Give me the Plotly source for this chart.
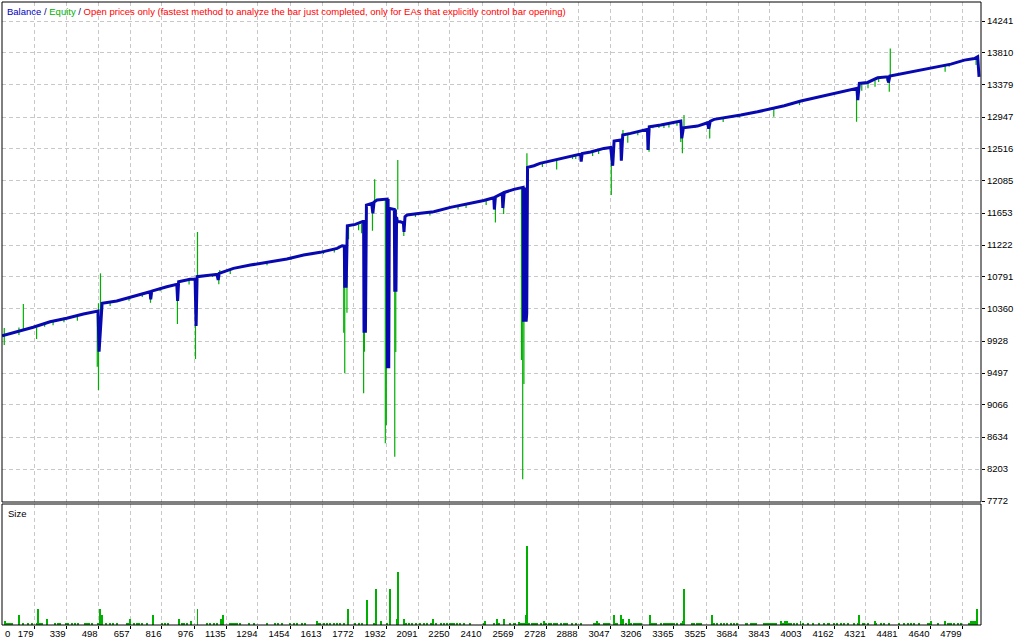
import plotly.graph_objects as go

# ---------------- data ----------------
bal_x = [20, 109, 175, 259, 342, 425, 495, 498, 503, 510,
         515, 518, 591, 674, 757, 760, 765, 840, 890, 894,
         899, 956, 981, 986, 991, 1090, 1096, 1101, 1172, 1256,
         1355, 1438, 1521, 1604, 1688, 1713, 1724, 1726, 1730, 1733,
         1739, 1779, 1816, 1820, 1822, 1826, 1829, 1834, 1860, 1866,
         1872, 1887, 1937, 1939, 1942, 1945, 1948, 1965, 1973, 1975,
         1978, 1981, 1984, 1988, 2003, 2018, 2021, 2026, 2036, 2103,
         2169, 2252, 2336, 2418, 2468, 2471, 2476, 2510, 2513, 2520,
         2568, 2610, 2614, 2616, 2619, 2622, 2626, 2629, 2632, 2636,
         2668, 2698, 2784, 2867, 2900, 2903, 2908, 2950, 2983, 3016,
         3050, 3060, 3067, 3100, 3103, 3110, 3149, 3199, 3233, 3236,
         3242, 3299, 3365, 3399, 3404, 3412, 3482, 3532, 3538, 3546,
         3565, 3631, 3698, 3781, 3847, 3914, 3997, 4080, 4163, 4246,
         4276, 4280, 4288, 4329, 4379, 4429, 4433, 4440, 4462, 4528,
         4578, 4661, 4744, 4811, 4861, 4877, 4884]
bal_y = [10000, 10067, 10113, 10188, 10234, 10292, 10332, 10332, 9784, 10134,
         10420, 10436, 10467, 10534, 10592, 10490, 10600, 10660, 10692, 10467,
         10727, 10759, 10759, 10130, 10795, 10827, 10750, 10840, 10907, 10952,
         10996, 11033, 11087, 11123, 11177, 11212, 11208, 10646, 11208, 10646,
         11480, 11500, 11540, 11540, 10040, 11540, 10040, 11760, 11783, 11650,
         11800, 11828, 11841, 9560, 11841, 9560, 11716, 11700, 11700, 10592,
         11700, 10592, 11600, 11535, 11535, 11522, 11400, 11603, 11626, 11649,
         11670, 11729, 11774, 11822, 11859, 11700, 11870, 11917, 11720, 11930,
         11972, 11999, 11999, 10188, 11999, 10188, 11990, 10188, 10300, 12268,
         12290, 12322, 12375, 12420, 12448, 12345, 12455, 12475, 12502, 12524,
         12537, 12290, 12623, 12637, 12357, 12704, 12726, 12762, 12781, 12502,
         12816, 12839, 12875, 12893, 12659, 12802, 12825, 12870, 12790, 12890,
         12915, 12942, 12973, 13017, 13054, 13099, 13162, 13212, 13266, 13310,
         13333, 13175, 13400, 13413, 13475, 13489, 13410, 13500, 13512, 13549,
         13566, 13616, 13660, 13714, 13736, 13759, 13489]

# equity excursions away from the balance line: position, low, high
eq_x = [31, 104, 126, 192, 232, 274, 328, 395, 494, 500, 510, 558,
        652, 718, 759, 807, 893, 951, 983, 988, 993, 1067, 1099, 1104,
        1156, 1339, 1458, 1620, 1674, 1721, 1726, 1737, 1745, 1795, 1810, 1820,
        1824, 1864, 1875, 1928, 1933, 1975, 1980, 1990, 2020, 2078, 2150, 2290,
        2330, 2430, 2476, 2517, 2606, 2612, 2618, 2633, 2710, 2781, 2860, 2876,
        2960, 2990, 3053, 3111, 3135, 3185, 3241, 3260, 3290, 3315, 3340, 3380,
        3399, 3407, 3415, 3470, 3543, 3610, 3690, 3862, 3990, 4274, 4300, 4331,
        4366, 4384, 4425, 4437, 4442, 4715, 4735, 4869]
eq_lo = [9874, 10010, 10070, 9955, 10120, 10140, 10180, 10200, 9582, 9268, 10300, 10400,
         10470, 10520, 10443, 10600, 10157, 10690, 9685, 10150, 10790, 10790, 10692, 10840,
         10830, 10950, 11020, 11100, 11120, 10040, 9493, 10309, 11300, 11420, 11380, 9223,
         9784, 11414, 11800, 8549, 8796, 8369, 9780, 11700, 11345, 11600, 11620, 11700,
         11720, 11760, 11526, 11640, 9672, 8064, 9350, 12268, 12273, 12240, 12380, 12380,
         12420, 12450, 11895, 12704, 12600, 12700, 12480, 12794, 12800, 12800, 12805, 12830,
         12610, 12457, 12802, 12800, 12659, 12880, 12940, 12951, 13108, 12883, 13300, 13333,
         13355, 13420, 13436, 13287, 13489, 13557, 13624, 13647]
eq_hi = [10103, 10110, 10427, 10110, 10180, 10200, 10240, 10270, 10300, 10436, 10840, 10460,
         10520, 10580, 10590, 10650, 10690, 10760, 10760, 10790, 11397, 10830, 10840, 10885,
         10900, 10990, 11050, 11130, 11170, 11212, 11210, 10840, 11490, 11500, 11515, 11520,
         11520, 11780, 12107, 11840, 11840, 11700, 11700, 12367, 11522, 11640, 11665, 11760,
         11770, 11825, 11865, 11925, 11990, 11999, 10800, 12457, 12330, 12375, 12420, 12420,
         12480, 12505, 12537, 12771, 12704, 12755, 12781, 12830, 12835, 12845, 12850, 12870,
         12893, 12802, 12973, 12825, 12880, 12930, 12970, 13060, 13160, 13333, 13400, 13413,
         13440, 13478, 13489, 13489, 13871, 13640, 13650, 13755]

# Size panel (lots)
size_x = [34, 106, 200, 245, 509, 518, 659, 769, 903, 963, 993, 1108,
          1121, 1586, 1742, 1835, 1882, 1905, 1950, 1987, 1992, 2020, 2164, 2423,
          2482, 2518, 2596, 2628, 2633, 2717, 2981, 3065, 3100, 3111, 3139, 3244,
          3409, 3414, 3552, 3900, 3920, 3930, 3995, 4287, 4367, 4646, 4716, 4844,
          4851, 4859, 4866, 4874]
size_v = [0.04, 0.10, 0.16, 0.06, 0.16, 0.10, 0.06, 0.10, 0.06, 0.04, 0.16, 0.06,
          0.10, 0.04, 0.16, 0.25, 0.36, 0.04, 0.36, 0.06, 0.53, 0.06, 0.06, 0.04,
          0.06, 0.06, 0.03, 0.10, 0.78, 0.04, 0.04, 0.10, 0.10, 0.06, 0.06, 0.10,
          0.04, 0.36, 0.10, 0.04, 0.04, 0.04, 0.04, 0.10, 0.04, 0.04, 0.04, 0.04,
          0.04, 0.04, 0.04, 0.16]
MIN_LOT = 0.01
min_lot_x = [43, 51, 59, 68, 126, 151, 167, 192, 209, 217, 284, 300, 309, 337, 350,
             367, 383, 400, 433, 445, 455, 466, 500, 538, 558, 574, 591, 641, 649,
             677, 691, 704, 716, 741, 815, 832, 848, 915, 927, 940, 1040, 1053, 1073,
             1090, 1156, 1164, 1172, 1181, 1189, 1206, 1247, 1272, 1339, 1377, 1392,
             1414, 1455, 1471, 1488, 1513, 1530, 1596, 1604, 1621, 1638, 1654, 1671,
             1688, 1704, 1721, 1779, 1795, 1812, 1870, 1937, 1953, 2033, 2045, 2061,
             2083, 2103, 2119, 2136, 2153, 2178, 2203, 2219, 2236, 2252, 2261, 2269,
             2286, 2302, 2319, 2352, 2418, 2468, 2493, 2551, 2576, 2568, 2593, 2601,
             2609, 2618, 2643, 2659, 2668, 2676, 2684, 2701, 2726, 2742, 2751, 2767,
             2776, 2784, 2801, 2817, 2825, 2834, 2859, 2875, 2900, 2967, 2975, 2992,
             3017, 3025, 3033, 3041, 3075, 3083, 3124, 3149, 3166, 3174, 3183, 3191,
             3199, 3257, 3266, 3274, 3299, 3316, 3324, 3332, 3340, 3349, 3357, 3365,
             3382, 3399, 3457, 3465, 3482, 3490, 3498, 3565, 3581, 3598, 3615, 3631,
             3648, 3664, 3681, 3723, 3731, 3748, 3756, 3764, 3772, 3814, 3822, 3831,
             3839, 3847, 3856, 3864, 3872, 3905, 3914, 3938, 3947, 3963, 3980, 4005,
             4030, 4055, 4088, 4113, 4130, 4138, 4163, 4179, 4196, 4213, 4229, 4262,
             4279, 4304, 4312, 4329, 4370, 4395, 4412, 4437, 4487, 4512, 4528, 4545,
             4562, 4586, 4628, 4636, 4678, 4728, 4736, 4744, 4761, 4778, 4794, 4836]

x_ticks = [179, 339, 498, 657, 816, 976, 1135, 1294, 1454, 1613, 1772, 1932, 2091,
           2250, 2410, 2569, 2728, 2888, 3047, 3206, 3365, 3525, 3684, 3843, 4003,
           4162, 4321, 4481, 4640, 4799]
y_ticks = [7772, 8203, 8634, 9066, 9497, 9928, 10360, 10791, 11222, 11653, 12085,
           12516, 12947, 13379, 13810, 14241]

# ---------------- styling ----------------
W, H = 1024, 640
FL, FR, FT, FB = 2, 981, 2, 625        # outer frame in pixels
MAIN_BOTTOM, SIZE_TOP = 502, 504
ph = FB - FT
main_dom = [(FB - MAIN_BOTTOM) / ph, 1.0]
size_dom = [0.0, (FB - SIZE_TOP) / ph]

BLUE = "#0808b0"
GREEN = "#00b000"
GRID = "#c8c8c8"
FONT = "Liberation Sans"

ex, ey = [], []
for x, lo, hi in zip(eq_x, eq_lo, eq_hi):
    ex += [x, x, None]
    ey += [lo, hi, None]

fig = go.Figure()
fig.add_trace(go.Scatter(x=ex, y=ey, mode="lines", line=dict(color=GREEN, width=1.2),
                         xaxis="x", yaxis="y", hoverinfo="skip", showlegend=False))
fig.add_trace(go.Scatter(x=bal_x, y=bal_y, mode="lines", line=dict(color=BLUE, width=3),
                         xaxis="x", yaxis="y", showlegend=False))
fig.add_trace(go.Bar(x=size_x + min_lot_x, y=size_v + [MIN_LOT] * len(min_lot_x),
                     width=5, marker=dict(color=GREEN, line=dict(width=0)),
                     xaxis="x2", yaxis="y2", showlegend=False))

xr = [19.7, 4893.6]
common_x = dict(range=xr, tickvals=x_ticks, showgrid=True, gridcolor=GRID, gridwidth=1,
                griddash="4px,3px", zeroline=False, showline=False)
fig.update_layout(
    width=W, height=H,
    margin=dict(l=FL, r=W - FR, t=FT, b=H - FB, pad=0, autoexpand=False),
    paper_bgcolor="white", plot_bgcolor="white",
    bargap=0,
    xaxis=dict(**common_x, anchor="y", showticklabels=False, ticks=""),
    xaxis2=dict(**common_x, anchor="y2", matches="x", ticktext=[str(v) for v in x_ticks],
                ticks="outside", ticklen=3, tickcolor="black",
                ticklabelposition="outside left",
                tickfont=dict(family=FONT, size=9.5, color="black")),
    yaxis=dict(domain=main_dom, range=[7758.5, 14497], side="right", anchor="x",
               tickvals=y_ticks, ticktext=[str(v) for v in y_ticks],
               ticks="outside", ticklen=3, tickcolor="black",
               tickfont=dict(family=FONT, size=9.5, color="black"),
               showgrid=True, gridcolor=GRID, griddash="4px,3px", zeroline=False),
    yaxis2=dict(domain=size_dom, range=[0, 1.2], anchor="x2", showgrid=False,
                showticklabels=False, zeroline=False, ticks=""),
    shapes=[
        dict(type="rect", xref="paper", yref="paper", x0=0, x1=1, y0=main_dom[0], y1=1,
             line=dict(color="black", width=1)),
        dict(type="rect", xref="paper", yref="paper", x0=0, x1=1, y0=0, y1=size_dom[1],
             line=dict(color="black", width=1)),
    ],
    annotations=[
        dict(xref="paper", yref="paper", x=0, y=1, xanchor="left", yanchor="top",
             xshift=3, yshift=-2, showarrow=False,
             font=dict(family=FONT, size=9.5, color="#ff0000"),
             text="<span style='color:#0000c0'>Balance</span>"
                  "<span style='color:#000080'> / </span>"
                  "<span style='color:#00b000'>Equity</span>"
                  "<span style='color:#000080'> / </span>"
                  "Open prices only (fastest method to analyze the bar just completed, "
                  "only for EAs that explicitly control bar opening)"),
        dict(xref="paper", yref="paper", x=0, y=size_dom[1], xanchor="left", yanchor="top",
             xshift=4, yshift=-2, showarrow=False,
             font=dict(family=FONT, size=9.5, color="black"), text="Size"),
        dict(xref="paper", yref="paper", x=0, y=0, xanchor="left", yanchor="top",
             xshift=1, yshift=-1, showarrow=False,
             font=dict(family=FONT, size=9.5, color="black"), text="0"),
    ],
)

fig.write_html("out.html", config={"displayModeBar": False},
               post_script="document.body.style.margin='0';document.body.style.overflow='hidden';")
